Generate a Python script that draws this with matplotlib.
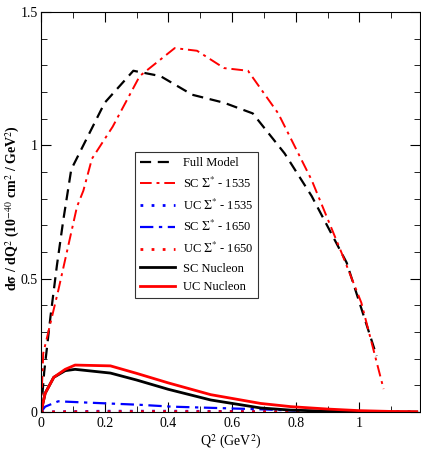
import numpy as np
import matplotlib
matplotlib.use('Agg')
import matplotlib.pyplot as plt
from matplotlib.ticker import MultipleLocator

plt.rcParams['font.family'] = ['Liberation Serif', 'DejaVu Serif']
plt.rcParams['mathtext.fontset'] = 'stix'

# Full model (black dashed)
full_q2 = [0.0, 0.01, 0.03, 0.05, 0.07, 0.095, 0.2, 0.29, 0.375, 0.475, 0.575, 0.665, 0.765, 0.85, 0.96, 1.054]
full_y = [0.0, 0.15, 0.36, 0.55, 0.72, 0.91, 1.16, 1.28, 1.26, 1.19, 1.16, 1.12, 0.97, 0.81, 0.56, 0.21]

# SC Sigma* 1535 (red dash-dot)
sc1535_q2 = [0.0, 0.007, 0.055, 0.113, 0.133, 0.16, 0.225, 0.31, 0.42, 0.49, 0.575, 0.65, 0.745, 0.85, 0.943, 1.006, 1.076]
sc1535_y = [0.0, 0.22, 0.46, 0.77, 0.83, 0.95, 1.07, 1.26, 1.365, 1.355, 1.29, 1.28, 1.12, 0.87, 0.6, 0.41, 0.086]

# SC Sigma* 1650 (blue dash-dot)
sc1650_q2 = [0.0, 0.013, 0.054, 0.15, 0.31, 0.41, 0.55, 0.69, 0.8]
sc1650_y = [0.0, 0.02, 0.04, 0.035, 0.027, 0.02, 0.015, 0.01, 0.005]

# UC Sigma* 1535 / 1650 (dotted, almost zero)
uc_q2 = [0.0, 0.2, 0.4, 0.6, 0.8, 1.0, 1.18]
uc1535_y = [0.0, 0.003, 0.003, 0.002, 0.001, 0.001, 0.0]
uc1650_y = [0.0, 0.001, 0.001, 0.001, 0.0, 0.0, 0.0]

# Nucleon contributions
nuc_q2 = [0.0, 0.013, 0.04, 0.076, 0.107, 0.218, 0.3, 0.4, 0.533, 0.69, 0.785, 0.9, 1.0, 1.1, 1.18]
sc_nuc_y = [0.0, 0.07, 0.13, 0.155, 0.16, 0.146, 0.12, 0.085, 0.045, 0.015, 0.007, 0.003, 0.001, 0.0, 0.0]
uc_nuc_y = [0.0, 0.07, 0.13, 0.16, 0.176, 0.173, 0.145, 0.109, 0.065, 0.032, 0.02, 0.011, 0.005, 0.002, 0.001]

fig = plt.figure(figsize=(4.21, 4.57), dpi=100)
ax = fig.add_axes([0.0974, 0.0985, 0.9, 0.875])

ax.plot(full_q2, full_y, color='black', lw=1.6, dashes=(5, 3), label='Full Model')
ax.plot(sc1535_q2, sc1535_y, color='red', lw=1.4, dashes=(6, 2.5, 1.5, 2.5), label=r'SC $\Sigma^{*}$ - 1535')
ax.plot(uc_q2, uc1535_y, color='blue', lw=2, dashes=(1, 3), label=r'UC $\Sigma^{*}$ - 1535')
ax.plot(sc1650_q2, sc1650_y, color='blue', lw=1.6, dashes=(6, 2.5, 1.5, 2.5), label=r'SC $\Sigma^{*}$ - 1650')
ax.plot(uc_q2, uc1650_y, color='red', lw=2, dashes=(1, 3), label=r'UC $\Sigma^{*}$ - 1650')
ax.plot(nuc_q2, sc_nuc_y, color='black', lw=2, label='SC Nucleon')
ax.plot(nuc_q2, uc_nuc_y, color='red', lw=2, label='UC Nucleon')

ax.set_xlim(0, 1.19)
ax.set_ylim(0, 1.5)
ax.xaxis.set_minor_locator(MultipleLocator(0.1))
ax.yaxis.set_minor_locator(MultipleLocator(0.1))
ax.set_xticks([0, 0.2, 0.4, 0.6, 0.8, 1.0])
ax.set_xticklabels(['0', '0.2', '0.4', '0.6', '0.8', '1'])
ax.set_yticks([0, 0.5, 1.0, 1.5])
ax.set_yticklabels(['0', '0.5', '1', '1.5'])
ax.tick_params(which='both', direction='in', top=True, right=True, labelsize=10)
ax.tick_params(which='major', length=7)
ax.tick_params(which='minor', length=4)
ax.tick_params(axis='y', pad=2.5)

ax.set_xlabel(r'Q$^2$ (GeV$^2$)', fontsize=10, labelpad=2)
ax.set_ylabel(r'd$\mathbf{\sigma}$ / dQ$^2$ (10$^{-40}$ cm$^2$ / GeV$^2$)', fontsize=10,
              fontweight='bold')
ax.yaxis.set_label_coords(-0.05, 0.51)

leg = ax.legend(loc='upper left', bbox_to_anchor=(0.249, 0.65), fontsize=9, frameon=True,
                fancybox=False, edgecolor='black', handlelength=2.8, labelspacing=0.53,
                borderpad=0.4, handletextpad=0.6, borderaxespad=0)
leg.get_frame().set_linewidth(0.8)

fig.savefig('out.png', dpi=100)
